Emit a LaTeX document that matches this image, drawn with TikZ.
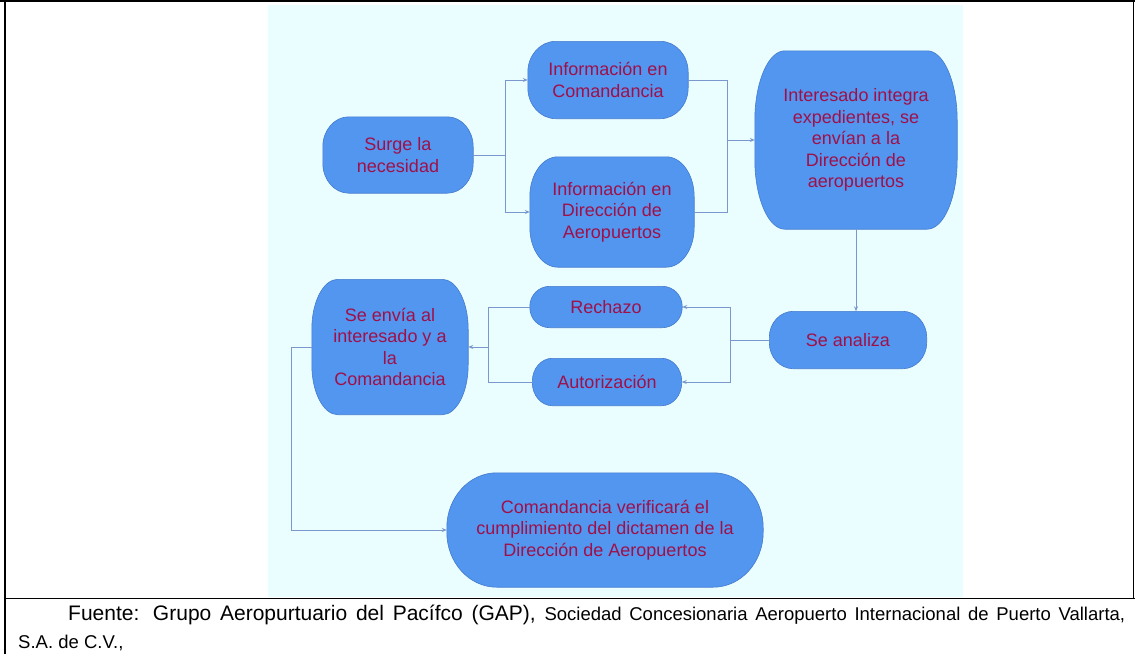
\documentclass[tikz,border=0pt]{standalone}
\usepackage{fontspec}
\setmainfont{Liberation Sans}
\usetikzlibrary{arrows.meta,calc,backgrounds}
\definecolor{bgcyan}{RGB}{234,254,255}
\definecolor{boxblue}{RGB}{82,150,240}
\definecolor{boxedge}{RGB}{68,122,205}
\definecolor{txtred}{RGB}{160,16,72}
\definecolor{linkblue}{RGB}{122,152,205}

% box outline with elliptic corners round a named node: #1 node, #2 and #3 corner radii
\newcommand{\capsule}[3]{%
  \path[boxshape] let \p1=(#1.north east), \p2=(#1.south west) in
    (\x2+#2pt,\y1) -- (\x1-#2pt,\y1)
    arc[start angle=90, end angle=0, x radius=#2pt, y radius=#3pt]
    -- (\x1,\y2+#3pt)
    arc[start angle=0, end angle=-90, x radius=#2pt, y radius=#3pt]
    -- (\x2+#2pt,\y2)
    arc[start angle=270, end angle=180, x radius=#2pt, y radius=#3pt]
    -- (\x2,\y1-#3pt)
    arc[start angle=180, end angle=90, x radius=#2pt, y radius=#3pt] -- cycle;}

\begin{document}
\begin{tikzpicture}[
    x=1pt, y=-1pt,
    box/.style={text=txtred, align=center, inner sep=0pt,
        font=\fontsize{18}{21.5}\selectfont},
    boxshape/.style={draw=boxedge, fill=boxblue, line width=0.6pt},
    link/.style={draw=linkblue, line width=0.9pt},
    arr/.style={link, -{Stealth[length=5pt, width=4pt]}}
]
\useasboundingbox (0,0) rectangle (1135,654);

% Frame of the figure
\draw[line width=2pt] (0,1) -- (1135,1);
\draw[line width=2pt] (5,0) -- (5,654);
\draw[line width=1.5pt] (5,598.5) -- (1135,598.5);
\draw[line width=1.5pt] (1133.5,0) -- (1133.5,598.5);

% Upper row
\node[box, minimum width=150pt, minimum height=76pt] (surge) at (398,155) {Surge la\\necesidad};
\node[box, minimum width=160pt, minimum height=77pt] (infoCom) at (608,80) {Información en\\Comandancia};
\node[box, minimum width=164pt, minimum height=110pt] (infoDir) at (612,212) {Información en\\Dirección de\\Aeropuertos};
\node[box, minimum width=202pt, minimum height=178pt] (interes) at (856,140) {Interesado integra\\expedientes, se\\envían a la\\Dirección de\\aeropuertos};

% Middle row
\node[box, minimum width=157pt, minimum height=57pt] (analiza) at (848,340) {Se analiza};
\node[box, minimum width=152pt, minimum height=41pt] (rechazo) at (606,307) {Rechazo};
\node[box, minimum width=149pt, minimum height=47pt] (autoriz) at (607,382) {Autorización};
\node[box, minimum width=156pt, minimum height=135pt] (envia) at (390,347) {Se envía al\\interesado y a\\la\\Comandancia};

% Bottom
\node[box, minimum width=316pt, minimum height=114pt] (verif) at (605,530) {Comandancia verificará el\\cumplimiento del dictamen de la\\Dirección de Aeropuertos};

% Outlines behind the texts
\begin{scope}[on background layer]
  \fill[bgcyan] (268,5) rectangle (963,597);
  \capsule{surge}{26}{30}
  \capsule{infoCom}{28}{31}
  \capsule{infoDir}{28}{40}
  \capsule{interes}{30}{70}
  \capsule{analiza}{24}{26}
  \capsule{rechazo}{20}{20}
  \capsule{autoriz}{20}{23}
  \capsule{envia}{26}{50}
  \capsule{verif}{50}{55}
\end{scope}

% Connectors
\coordinate (forkA) at (505,155);
\draw[link] (surge.east) -- (forkA);
\draw[arr] (forkA) |- (infoCom.west);
\draw[arr] (forkA) |- (infoDir.west);

\coordinate (mergeA) at (727,140);
\draw[link] (infoCom.east) -| (mergeA);
\draw[link] (infoDir.east) -| (mergeA);
\draw[arr] (mergeA) -- (interes.west);

\draw[arr] (interes.south) -- (interes.south |- analiza.north);

\coordinate (forkB) at (730,340);
\draw[link] (analiza.west) -- (forkB);
\draw[arr] (forkB) |- (rechazo.east);
\draw[arr] (forkB) |- (autoriz.east);

\coordinate (mergeB) at (488,347);
\draw[link] (rechazo.west) -| (mergeB);
\draw[link] (autoriz.west) -| (mergeB);
\draw[arr] (mergeB) -- (envia.east);

\coordinate (turnC) at (291,530);
\draw[arr] (envia.west) -| (turnC) |- (verif.west);

% Source line
\node[anchor=north west, text width=1107pt, align=justify, inner sep=0pt,
    font=\fontsize{21}{28}\selectfont] (fuente) at (18,605)
    {\hspace*{50pt}Fuente: Grupo Aeropurtuario del Pacífco (GAP), {\fontsize{18.5}{28}\selectfont Sociedad Concesionaria Aeropuerto Internacional de Puerto Vallarta,\linebreak S.A. de C.V.,}};

\end{tikzpicture}
\end{document}
